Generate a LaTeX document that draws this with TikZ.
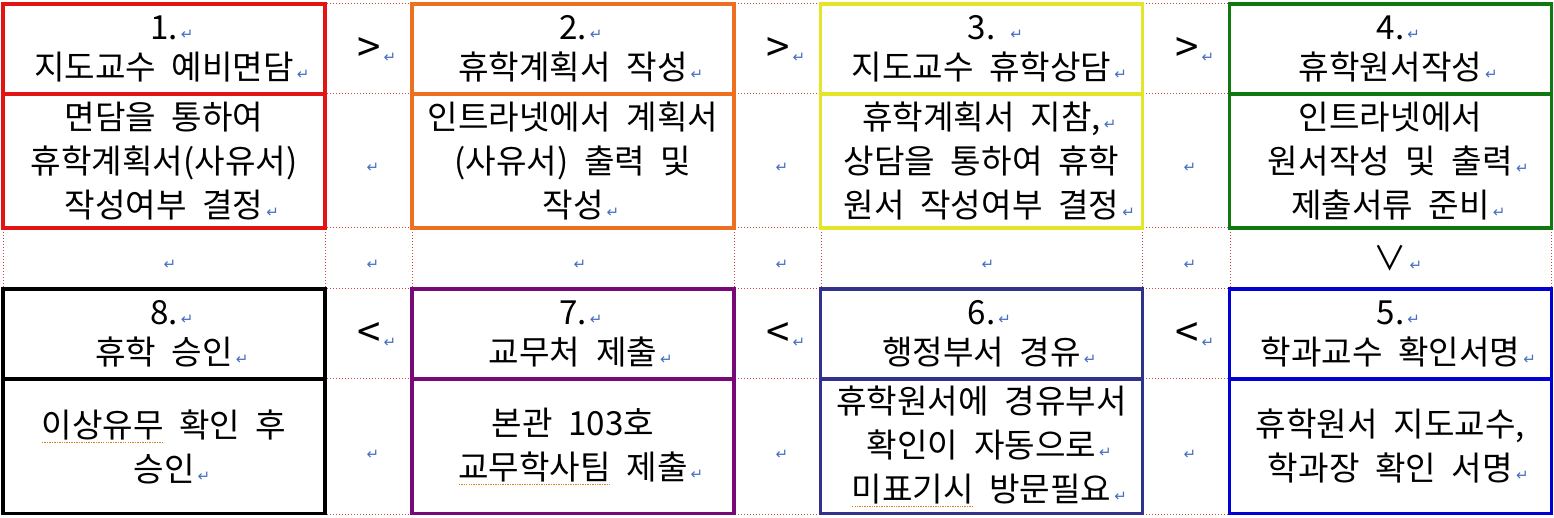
\documentclass[tikz,border=0pt]{standalone}
\usepackage{fontspec}
\setmainfont{Noto Sans CJK KR}[WordSpace=2.1]
\newfontfamily\markfont{DejaVu Sans}
\newfontfamily\signfont{Noto Sans CJK KR}
\definecolor{boxred}{RGB}{226,20,20}
\definecolor{boxorange}{RGB}{237,112,32}
\definecolor{boxyellow}{RGB}{228,228,40}
\definecolor{boxgreen}{RGB}{16,120,16}
\definecolor{boxblue}{RGB}{0,0,215}
\definecolor{boxslate}{RGB}{50,50,140}
\definecolor{boxpurple}{RGB}{120,10,120}
\definecolor{gridred}{RGB}{200,70,70}
\definecolor{markblue}{RGB}{70,110,190}
\definecolor{squig}{RGB}{215,130,30}
% paragraph mark after a line, not counted in its width
\newcommand\retmark{\rlap{\kern1.5pt{\markfont\fontsize{7.5}{7.5}\selectfont\color{markblue}↵}}}
% dotted spell-check underline
\newsavebox\sqbox
\newcommand\squig[1]{\sbox\sqbox{#1}\rlap{\raisebox{-3pt}{\color{squig}\hbox to \wd\sqbox{\xleaders\hbox to 1.2pt{\hss\rule{0.7pt}{0.7pt}\hss}\hfill}}}\usebox\sqbox}
\begin{document}
\begin{tikzpicture}[x=0.5pt,y=-0.5pt]
        % Define styles for cells and grid
        \tikzstyle{stephead}=[draw, line width=1.6pt, minimum width=161pt, minimum height=45pt, inner sep=0pt, align=center, font=\fontsize{16.6}{20}\selectfont]
        \tikzstyle{stepbody}=[stephead, minimum height=67pt, font=\fontsize{16.6}{22}\selectfont]
        \tikzstyle{arrowsign}=[inner sep=0pt, font=\signfont\fontsize{21}{21}\selectfont]
        \tikzstyle{dotgrid}=[draw=gridred, line width=0.5pt, dash pattern=on 0.5pt off 1pt]
        \useasboundingbox (0,0) rectangle (1554,518);

        % Dotted table grid
        \foreach \gx in {3,325,412,734,821,1142,1230,1551}
          \draw[dotgrid] (\gx,4) -- (\gx,514);
        \foreach \gy in {4,94,228,289,379,514}
          \draw[dotgrid] (3,\gy) -- (1551,\gy);

        % Top row of steps
        \node[stephead, draw=boxred] (h1) at (164,49) {1.\retmark\\지도교수 예비면담\retmark};
        \node[stepbody, draw=boxred] (b1) at (164,161) {면담을 통하여\\휴학계획서(사유서)\\작성여부 결정\retmark};
        \node[stephead, draw=boxorange] (h2) at (573,49) {2.\retmark\\휴학계획서 작성\retmark};
        \node[stepbody, draw=boxorange] (b2) at (573,161) {인트라넷에서 계획서\\(사유서) 출력 및\\작성\retmark};
        \node[stephead, draw=boxyellow] (h3) at (981.5,49) {3.\rlap{\hspace{6pt}\retmark}\\지도교수 휴학상담\retmark};
        \node[stepbody, draw=boxyellow] (b3) at (981.5,161) {휴학계획서 지참,\retmark\\상담을 통하여 휴학\\원서 작성여부 결정\retmark};
        \node[stephead, draw=boxgreen] (h4) at (1390.5,49) {4.\retmark\\휴학원서작성\retmark};
        \node[stepbody, draw=boxgreen] (b4) at (1390.5,161) {인트라넷에서\\원서작성 및 출력\retmark\\제출서류 준비\retmark};

        % Bottom row of steps
        \node[stephead, draw=boxblue] (h5) at (1390.5,334) {5.\retmark\\학과교수 확인서명\retmark};
        \node[stepbody, draw=boxblue] (b5) at (1390.5,446.5) {휴학원서 지도교수,\\학과장 확인 서명\retmark};
        \node[stephead, draw=boxslate] (h6) at (981.5,334) {6.\retmark\\행정부서 경유\retmark};
        \node[stepbody, draw=boxslate] (b6) at (981.5,446.5) {휴학원서에 경유부서\\확인이 자동으로\retmark\\\squig{미표기시} 방문필요\retmark};
        \node[stephead, draw=boxpurple] (h7) at (573,334) {7.\retmark\\교무처 제출\retmark};
        \node[stepbody, draw=boxpurple] (b7) at (573,446.5) {본관 103호\\\squig{교무학사팀} 제출\retmark};
        \node[stephead, draw=black] (h8) at (164,334) {8.\retmark\\휴학 승인\retmark};
        \node[stepbody, draw=black] (b8) at (164,446.5) {\squig{이상유무} 확인 후\\승인\retmark};

        % Direction signs between steps
        \node[arrowsign] (s12) at (369,50) {>\retmark};
        \node[arrowsign] (s23) at (778,50) {>\retmark};
        \node[arrowsign] (s34) at (1187,50) {>\retmark};
        \node[arrowsign, font=\fontsize{16.6}{16}\selectfont] (s45) at (1390,258) {∨\retmark};
        \node[arrowsign] (s56) at (1187,335) {<\retmark};
        \node[arrowsign] (s67) at (778,335) {<\retmark};
        \node[arrowsign] (s78) at (369,335) {<\retmark};

        % Marks of empty cells
        \foreach \px/\py [count=\i] in {373/168,782/168,1190/168,170/265,373/265,580/265,782/265,988/265,1190/265,373/455,782/455,1190/455}
          \node[inner sep=0pt, font=\markfont\fontsize{7.5}{7.5}\selectfont, text=markblue] (e\i) at (\px,\py) {↵};

      \end{tikzpicture}
\end{document}
